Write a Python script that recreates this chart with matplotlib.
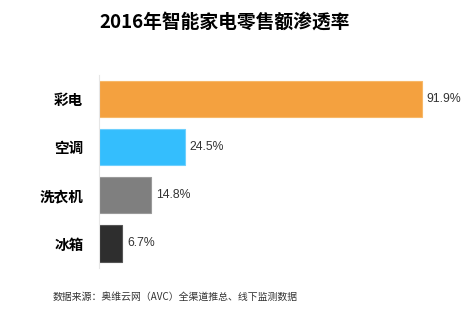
import matplotlib.pyplot as plt

plt.rcParams['font.family'] = ['Noto Sans CJK SC', 'DejaVu Sans']

categories = ['彩电', '空调', '洗衣机', '冰箱']
rates = [91.9, 24.5, 14.8, 6.7]
colors = ['#F4A13F', '#34BEFD', '#7F7F7F', '#2E2E2E']
edges = ['#F7B868', '#6FD0FD', '#9A9A9A', '#555555']

fig = plt.figure(figsize=(4.73, 3.34), dpi=100)
ax = fig.add_axes([98.7 / 473, 0.1988, 351.4 / 473, 0.578])

y = range(len(categories))
ax.barh(y, rates, height=0.75, color=colors, edgecolor=edges, linewidth=0.8)
ax.set_xlim(0, 100)
ax.set_ylim(3.5, -0.5)

for i, v in enumerate(rates):
    ax.text(v + 1.4, i, f'{v}%', va='center', ha='left', fontsize=8.8,
            color='#333333', family=['Liberation Sans', 'DejaVu Sans'])

ax.set_yticks(list(y))
ax.set_yticklabels(categories, fontsize=10.5, fontweight='bold')
ax.tick_params(axis='y', length=0, pad=11)
ax.set_xticks([])

for s in ['top', 'right', 'bottom']:
    ax.spines[s].set_visible(False)
ax.spines['left'].set_color('#E6E6E6')
ax.spines['left'].set_linewidth(0.8)

fig.text(225 / 473, 1 - 22 / 334, '2016年智能家电零售额渗透率', ha='center', va='center',
         fontsize=13.5, fontweight='bold')
fig.text(53 / 473, 1 - 297 / 334, '数据来源：奥维云网（AVC）全渠道推总、线下监测数据',
         ha='left', va='center', fontsize=7.1, color='#333333')

fig.savefig('out.png', dpi=100)
